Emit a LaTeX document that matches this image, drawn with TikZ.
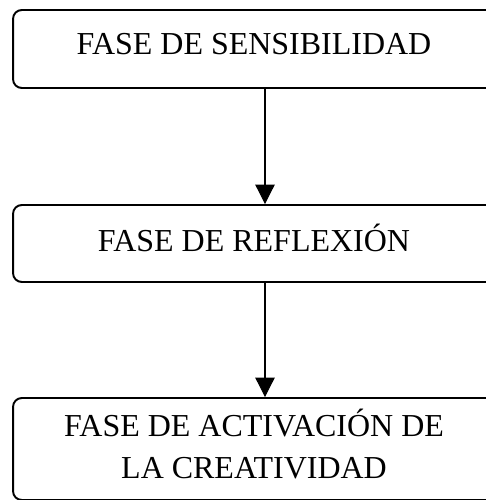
\documentclass[tikz,border=0pt]{standalone}
\usepackage{fontspec}
\setmainfont{Liberation Serif}
\usetikzlibrary{arrows.meta}

\begin{document}
\begin{tikzpicture}[x=0.02cm, y=-0.02cm,
    fase/.style={draw, line width=1.1pt, rounded corners=5pt, minimum width=9.64cm,
      align=center, text depth=6pt, font=\fontsize{18.2}{24}\selectfont},
    flecha/.style={line width=0.6pt, -{Triangle[width=11pt, length=11pt]}}]
    % Marco
    \useasboundingbox (0,0) rectangle (486,500);
    \clip (0,0) rectangle (486,500);

    % Fases
    \node[fase, minimum height=1.56cm] (sens) at (254,49) {FASE DE SENSIBILIDAD};
    \node[fase, minimum height=1.54cm] (refl) at (254,243.5) {FASE DE REFLEXIÓN};
    \node[fase, minimum height=2.04cm] (activ) at (254,449) {FASE DE ACTIVACIÓN DE\\LA CREATIVIDAD};

    % Flechas
    \draw[flecha] ([xshift=0.22cm]sens.south) -- ([xshift=0.22cm]refl.north);
    \draw[flecha] ([xshift=0.22cm]refl.south) -- ([xshift=0.22cm]activ.north);
\end{tikzpicture}
\end{document}
